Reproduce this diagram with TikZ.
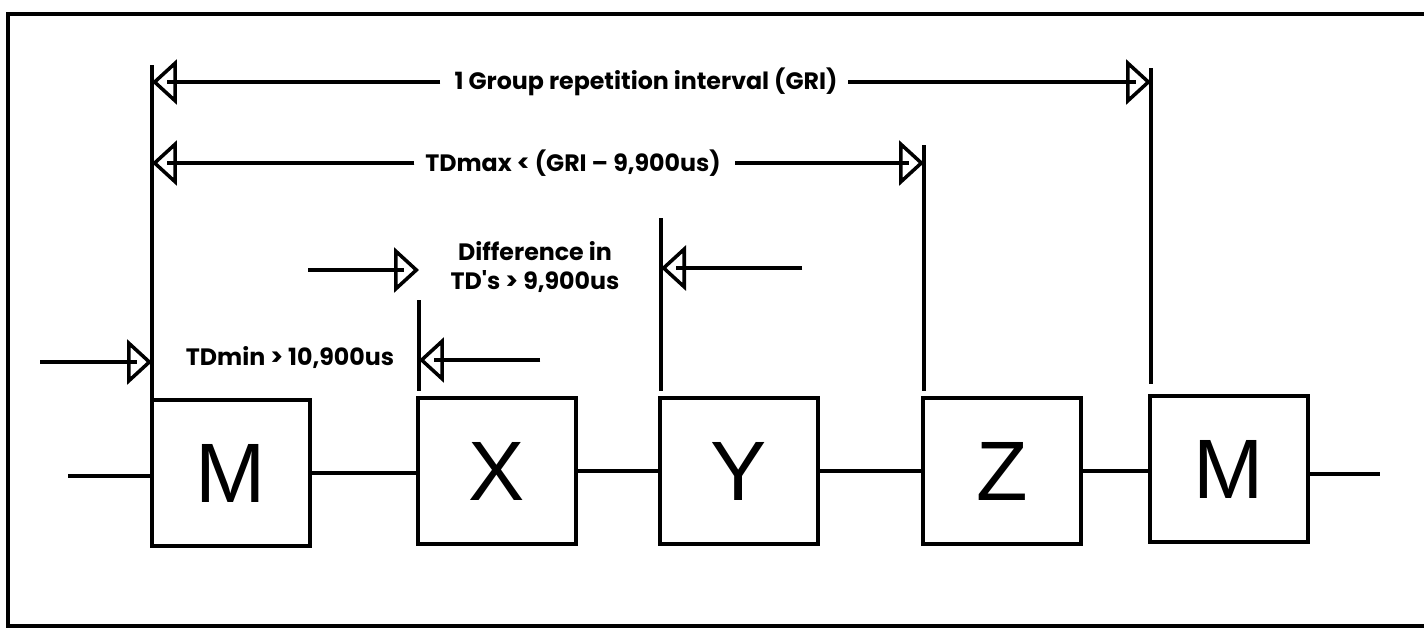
\documentclass[tikz,border=0pt]{standalone}
\usepackage{fontspec}
\newfontfamily\lblfont{Poppins}
\newfontfamily\boxfont{Liberation Sans}
\usepackage{tikz}
\usetikzlibrary{arrows.meta,positioning}

\begin{document}
\begin{tikzpicture}[
  x=0.02cm, y=-0.02cm,
  blk/.style  = {draw, line width=2pt, minimum width=3.16cm,
                 minimum height=2.92cm, inner sep=0pt,
                 font=\boxfont\fontsize{48}{48}\selectfont},
  lbl/.style  = {align=center, inner sep=2pt,
                 font=\lblfont\bfseries\fontsize{13.5}{16}\selectfont},
  tick/.style = {line width=2pt},
  dim/.style  = {line width=2pt,
                 -{Triangle[open, length=0.5cm, width=0.9cm, line width=2pt]},
                 postaction={draw, line width=2pt, arrows=-, shorten >=0.3cm}},
]

\useasboundingbox (0,0) rectangle (1424,629);
\draw[line width=2pt] (1424,14) -- (8,14) -- (8,626) -- (1424,626);

% stations on the time line
\node[blk] (m1) at (231,473) {M};
\node[blk] (x)  at (497,471) {X};
\node[blk] (y)  at (739,471) {Y};
\node[blk] (z)  at (1002,471) {Z};
\node[blk] (m2) at (1229,469) {M};

\coordinate (in)  at (68,476);
\coordinate (out) at (1380,474);
\draw[tick] (in) -- (in -| m1.west);
\draw[tick] (m1.east) -- (m1.east -| x.west);
\draw[tick] (x) -- (y);
\draw[tick] (y) -- (z);
\draw[tick] (z.east) -- (z.east -| m2.west);
\draw[tick] (out -| m2.east) -- (out);

% extension lines
\coordinate (mt)  at (152,65);
\coordinate (xt)  at (419,300);
\coordinate (yt)  at (661,218);
\coordinate (zt)  at (924,145);
\coordinate (m2t) at (1151,68);
\draw[tick] (mt |- m1.north) -- (mt);
\draw[tick] ([yshift=3pt]xt |- x.north) -- (xt);
\draw[tick] ([yshift=3pt]yt |- y.north) -- (yt);
\draw[tick] ([yshift=3pt]zt |- z.north) -- (zt);
\draw[tick] ([yshift=6pt]m2t |- m2.north) -- (m2t);

% GRI
\node[lbl] (gri) at (646,82) {1 Group repetition interval (GRI)};
\draw[dim] ([xshift=-6pt]gri.west) -- (gri -| mt);
\draw[dim] ([xshift=4pt]gri.east) -- (gri -| m2t);

% TDmax
\node[lbl] (tdmax) at (573,163) {TDmax < (GRI – 9,900us)};
\draw[dim] ([xshift=-4pt]tdmax.west) -- (tdmax -| mt);
\draw[dim] ([xshift=6pt]tdmax.east) -- (tdmax -| zt);

% difference in TDs
\node[lbl] (diff) at (535,267) {Difference in\\TD's > 9,900us};
\coordinate (d1) at (308,270);
\coordinate (d2) at (802,268);
\draw[dim] (d1) -- (d1 -| xt);
\draw[dim] (d2) -- (d2 -| yt);

% TDmin
\node[lbl] (tdmin) at (290,358) {TDmin > 10,900us};
\coordinate (n1) at (40,362);
\coordinate (n2) at (540,360);
\draw[dim] (n1) -- (n1 -| mt);
\draw[dim] (n2) -- (n2 -| xt);

\end{tikzpicture}
\end{document}
